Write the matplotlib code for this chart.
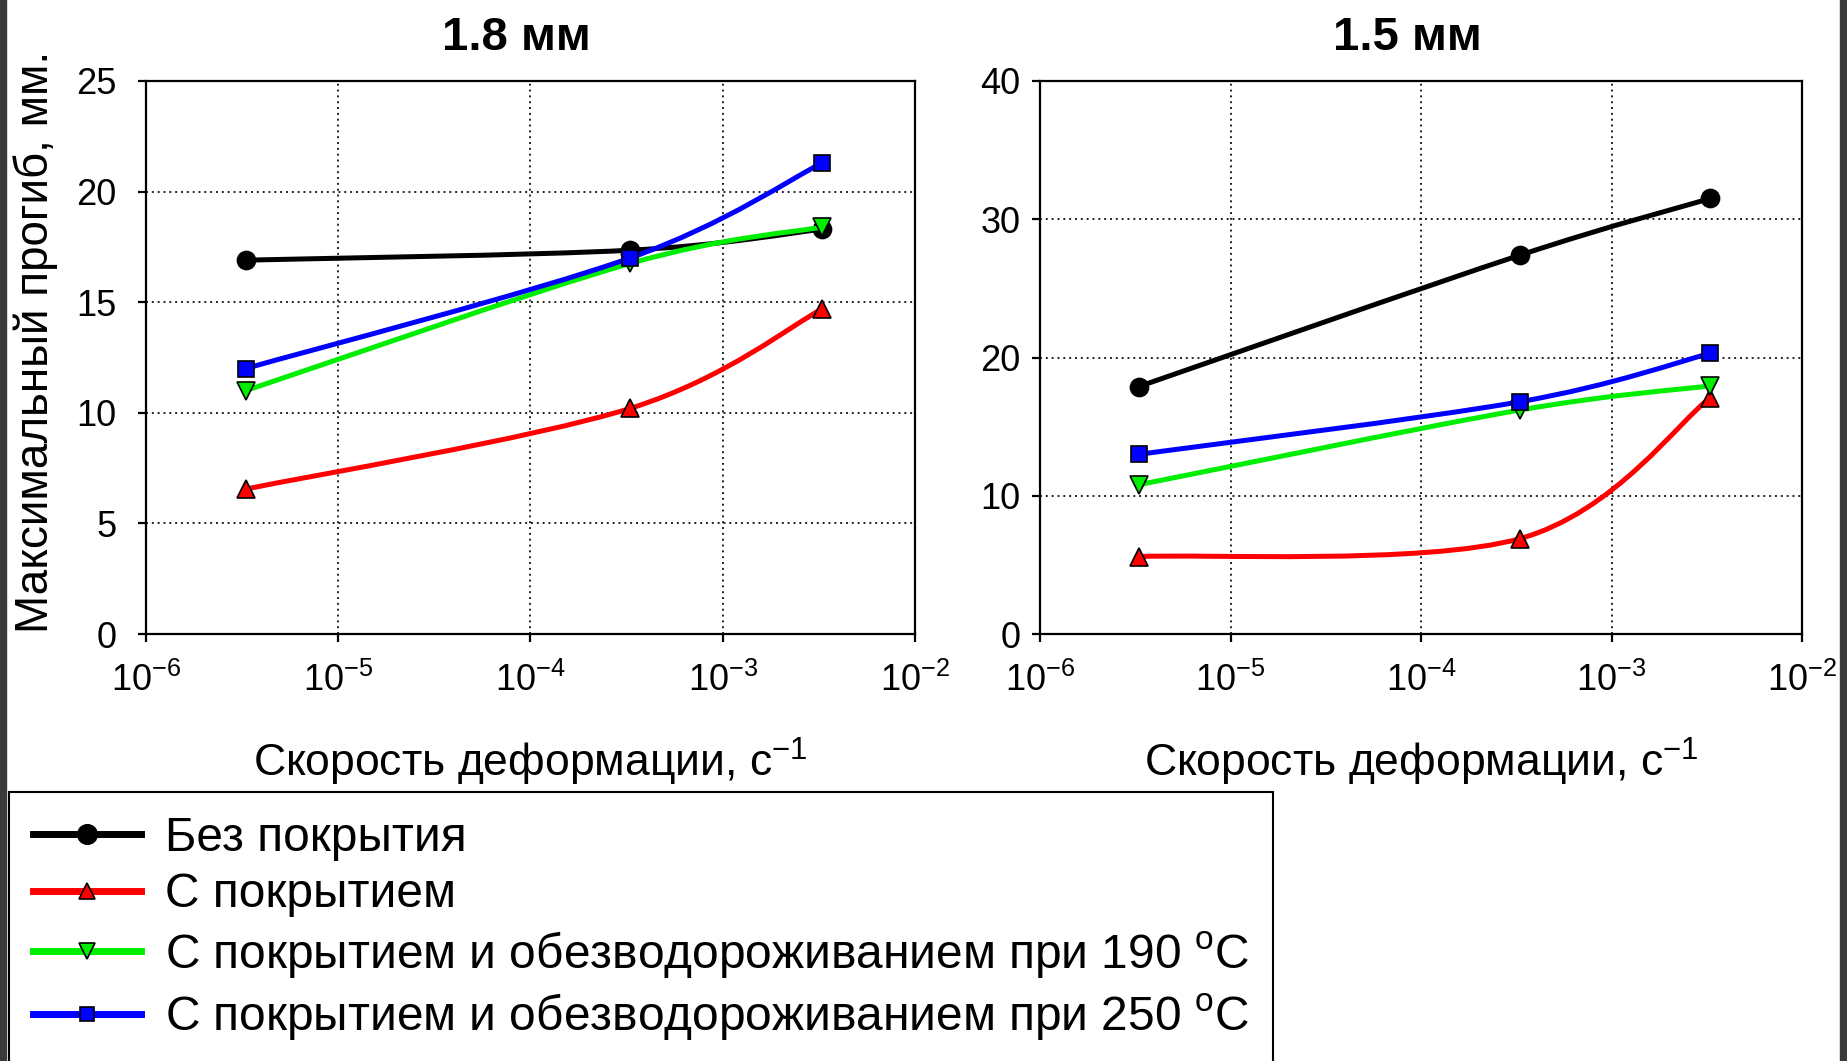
import numpy as np
import matplotlib
matplotlib.use('Agg')
import matplotlib.pyplot as plt
from matplotlib.path import Path
from matplotlib.patches import PathPatch, Rectangle
from matplotlib.lines import Line2D
from matplotlib.ticker import FixedLocator, FuncFormatter, NullLocator

plt.rcParams['font.family'] = ['Liberation Sans', 'DejaVu Sans']
plt.rcParams['mathtext.default'] = 'regular'

# скорость деформации, 1/с
rates = [3.3e-6, 3.3e-4, 3.3e-3]

names = ['Без покрытия',
         'С покрытием',
         'С покрытием и обезводороживанием при 190 $^{o}$C',
         'С покрытием и обезводороживанием при 250 $^{o}$C']

# максимальный прогиб, мм - толщина 1.8 мм
bez_18 = [16.9, 17.35, 18.3]
pokr_18 = [6.55, 10.2, 14.7]
obez190_18 = [11.0, 16.75, 18.4]
obez250_18 = [12.0, 17.0, 21.3]

# толщина 1.5 мм
bez_15 = [17.9, 27.4, 31.5]
pokr_15 = [5.6, 6.9, 17.1]
obez190_15 = [10.8, 16.2, 17.95]
obez250_15 = [13.0, 16.8, 20.3]

colors = ['#000000', '#ff0000', '#00ee00', '#0000ff']
markers = ['o', '^', 'v', 's']
msizes = [13, 13, 13, 11]


def smooth_path(x, y):
    # сглаженная линия как в Excel (кривые Безье, по log x)
    lx = np.log10(x)
    y = np.asarray(y, float)
    n = len(lx)
    verts = [(x[0], y[0])]
    codes = [Path.MOVETO]
    for i in range(n - 1):
        i0 = max(i - 1, 0)
        i3 = min(i + 2, n - 1)
        c1x = lx[i] + (lx[i + 1] - lx[i0]) / 6
        c1y = y[i] + (y[i + 1] - y[i0]) / 6
        c2x = lx[i + 1] - (lx[i3] - lx[i]) / 6
        c2y = y[i + 1] - (y[i3] - y[i]) / 6
        verts += [(10 ** c1x, c1y), (10 ** c2x, c2y), (x[i + 1], y[i + 1])]
        codes += [Path.CURVE4] * 3
    return Path(verts, codes)


def draw(ax, series, ymax, ystep, title, ypad):
    for k, vals in enumerate(series):
        ax.add_patch(PathPatch(smooth_path(rates, vals), fill=False,
                               edgecolor=colors[k], lw=3.6, zorder=3 + k))
        ax.plot(rates, vals, linestyle='none', marker=markers[k], ms=msizes[k],
                mfc=colors[k], mec='black', mew=1.2, zorder=3 + k)
    ax.set_xscale('log')
    ax.set_xlim(1e-6, 1e-2)
    ax.set_ylim(0, ymax)
    ax.xaxis.set_major_locator(FixedLocator([1e-6, 1e-5, 1e-4, 1e-3, 1e-2]))
    ax.xaxis.set_minor_locator(NullLocator())
    ax.xaxis.set_major_formatter(FuncFormatter(lambda v, p: '10$^{%d}$' % round(np.log10(v))))
    ax.set_yticks(np.arange(0, ymax + 1, ystep))
    ax.grid(True, color='#222222', linestyle=(0, (1, 2)), lw=1.4)
    for s in ax.spines.values():
        s.set_linewidth(1.6)
    ax.tick_params(axis='both', direction='out', length=6, width=1.6, labelsize=26)
    ax.tick_params(axis='x', pad=15)
    ax.tick_params(axis='y', pad=ypad)
    ax.set_title(title, fontsize=34, fontweight='bold', x=0.482, pad=22)
    ax.set_xlabel('Скорость деформации, с$^{-1}$', fontsize=32)
    ax.xaxis.set_label_coords(0.5, -0.185)


fig = plt.figure(figsize=(18.47, 10.61), dpi=100)
ax1 = fig.add_axes([0.0790, 0.4024, 0.4164, 0.5213])
ax2 = fig.add_axes([0.5631, 0.4024, 0.4126, 0.5213])

draw(ax1, [bez_18, pokr_18, obez190_18, obez250_18], 25, 5, '1.8 мм', 15)
draw(ax2, [bez_15, pokr_15, obez190_15, obez250_15], 40, 10, '1.5 мм', 8)

fig.text(36 / 1847, 1 - 342 / 1061, 'Максимальный прогиб, мм.', rotation=90,
         ha='center', va='center', fontsize=33)

handles = [Line2D([], [], color=colors[k], lw=5, marker=markers[k],
                  ms=[14, 12, 12, 10][k], mfc=colors[k], mec='black', mew=1.2)
           for k in range(4)]
leg = fig.legend(handles, names, loc='upper left',
                 bbox_to_anchor=(9 / 1847, 1 - 792 / 1061), borderaxespad=0,
                 fontsize=34.5, handlelength=2.25, handletextpad=0.5,
                 labelspacing=0.24, borderpad=0.5, fancybox=False,
                 edgecolor='black', framealpha=1)
leg.get_frame().set_linewidth(1.5)

# тёмные полосы по краям скриншота
fig.patches.append(Rectangle((0, 0), 6 / 1847, 1, transform=fig.transFigure,
                             color='#3a3a3a', zorder=10))
fig.patches.append(Rectangle((1840 / 1847, 0), 7 / 1847, 1, transform=fig.transFigure,
                             color='#3a3a3a', zorder=10))

fig.savefig('out.png', dpi=100)
